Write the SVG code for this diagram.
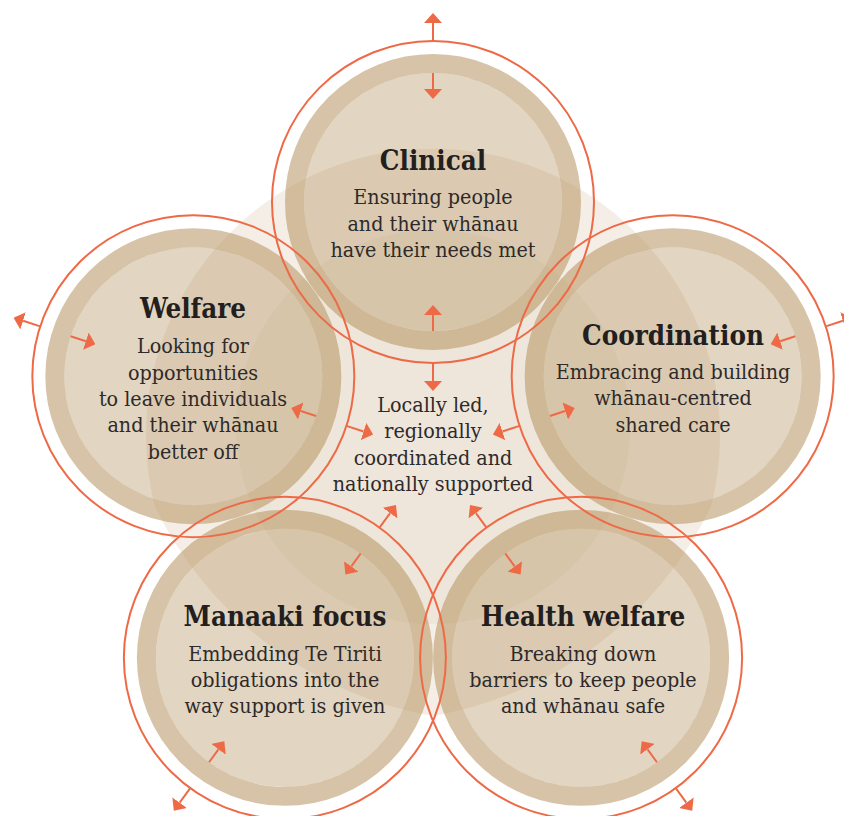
<svg xmlns="http://www.w3.org/2000/svg" width="844" height="816" viewBox="0 0 844 816">
<defs>
<style>
.cream{fill:#b08a52;fill-opacity:0.145}
.creamB{fill:#b08a52;fill-opacity:0.075}
.ring{fill:none;stroke:#b08a52;stroke-opacity:0.5;stroke-width:19}
.inner{fill:#b08a52;fill-opacity:0.36}
.red{fill:none;stroke:#ee6a47;stroke-width:2}
.ar{stroke:#ee6a47;stroke-width:2;fill:none;marker-end:url(#ah)}
.t{font-family:"DejaVu Serif","Liberation Serif",serif;font-stretch:condensed;font-weight:bold;font-size:27.5px;fill:#231f20;text-anchor:middle}
.b{font-family:"DejaVu Serif","Liberation Serif",serif;font-stretch:condensed;font-size:21.3px;fill:#2e2a2a;text-anchor:middle}
</style>
<marker id="ah" viewBox="0 0 10 18" refX="0" refY="9" markerWidth="10" markerHeight="18" markerUnits="userSpaceOnUse" orient="auto">
<path d="M0,0 L10,9 L0,18 Z" fill="#ee6a47"/>
</marker>
</defs>
<rect width="844" height="816" fill="#ffffff"/>
<g id="background">
<path class="cream" d="M155,507 A287,287 0 1 1 711,507 A383,383 0 0 1 433,716 A383,383 0 0 1 155,507 Z"/>
<circle class="creamB" cx="433" cy="427" r="197"/>
</g>
<g id="discs">
<g id="disc-clinical"><circle class="ring" cx="433" cy="202" r="138.5"/><circle class="inner" cx="433" cy="202" r="129"/></g>
<g id="disc-coordination"><circle class="ring" cx="672.67" cy="376.13" r="138.5"/><circle class="inner" cx="672.67" cy="376.13" r="129"/></g>
<g id="disc-health"><circle class="ring" cx="581.12" cy="657.87" r="138.5"/><circle class="inner" cx="581.12" cy="657.87" r="129"/></g>
<g id="disc-manaaki"><circle class="ring" cx="284.88" cy="657.87" r="138.5"/><circle class="inner" cx="284.88" cy="657.87" r="129"/></g>
<g id="disc-welfare"><circle class="ring" cx="193.33" cy="376.13" r="138.5"/><circle class="inner" cx="193.33" cy="376.13" r="129"/></g>
</g>
<g id="outlines">
<circle class="red" cx="433" cy="202" r="161"/>
<circle class="red" cx="672.67" cy="376.13" r="161"/>
<circle class="red" cx="581.12" cy="657.87" r="161"/>
<circle class="red" cx="284.88" cy="657.87" r="161"/>
<circle class="red" cx="193.33" cy="376.13" r="161"/>
</g>
<g id="connectors">
<line class="ar" x1="433" y1="41" x2="433" y2="23"/>
<line class="ar" x1="433" y1="73" x2="433" y2="89"/>
<line class="ar" x1="433" y1="331" x2="433" y2="315"/>
<line class="ar" x1="433" y1="363" x2="433" y2="381"/>
<line class="ar" x1="825.79" y1="326.38" x2="842.91" y2="320.82"/>
<line class="ar" x1="795.36" y1="336.27" x2="780.14" y2="341.21"/>
<line class="ar" x1="549.98" y1="415.99" x2="565.20" y2="411.05"/>
<line class="ar" x1="519.55" y1="425.88" x2="502.43" y2="431.44"/>
<line class="ar" x1="675.75" y1="788.12" x2="686.33" y2="802.68"/>
<line class="ar" x1="656.94" y1="762.23" x2="647.54" y2="749.29"/>
<line class="ar" x1="505.30" y1="553.51" x2="514.70" y2="566.45"/>
<line class="ar" x1="486.49" y1="527.62" x2="475.91" y2="513.06"/>
<line class="ar" x1="190.25" y1="788.12" x2="179.67" y2="802.68"/>
<line class="ar" x1="209.06" y1="762.23" x2="218.46" y2="749.29"/>
<line class="ar" x1="360.70" y1="553.51" x2="351.30" y2="566.45"/>
<line class="ar" x1="379.51" y1="527.62" x2="390.09" y2="513.06"/>
<line class="ar" x1="40.21" y1="326.38" x2="23.09" y2="320.82"/>
<line class="ar" x1="70.64" y1="336.27" x2="85.86" y2="341.21"/>
<line class="ar" x1="316.02" y1="415.99" x2="300.80" y2="411.05"/>
<line class="ar" x1="346.45" y1="425.88" x2="363.57" y2="431.44"/>
</g>
<g id="node-clinical">
<text class="t" x="433" y="170">Clinical</text>
<text class="b" x="433" y="204">Ensuring people</text>
<text class="b" x="433" y="230.5">and their whānau</text>
<text class="b" x="433" y="257">have their needs met</text>
</g>
<g id="node-welfare">
<text class="t" x="193" y="318">Welfare</text>
<text class="b" x="193" y="353">Looking for</text>
<text class="b" x="193" y="379.5">opportunities</text>
<text class="b" x="193" y="406">to leave individuals</text>
<text class="b" x="193" y="432">and their whānau</text>
<text class="b" x="193" y="458.5">better off</text>
</g>
<g id="node-coordination">
<text class="t" x="673" y="345">Coordination</text>
<text class="b" x="673" y="378.5">Embracing and building</text>
<text class="b" x="673" y="405">whānau-centred</text>
<text class="b" x="673" y="431.5">shared care</text>
</g>
<g id="node-manaaki">
<text class="t" x="285" y="626">Manaaki focus</text>
<text class="b" x="285" y="661">Embedding Te Tiriti</text>
<text class="b" x="285" y="687">obligations into the</text>
<text class="b" x="285" y="713">way support is given</text>
</g>
<g id="node-health">
<text class="t" x="583" y="626">Health welfare</text>
<text class="b" x="583" y="661">Breaking down</text>
<text class="b" x="583" y="687">barriers to keep people</text>
<text class="b" x="583" y="713">and whānau safe</text>
</g>
<g id="node-centre">
<text class="b" x="433" y="411.5">Locally led,</text>
<text class="b" x="433" y="438">regionally</text>
<text class="b" x="433" y="464.5">coordinated and</text>
<text class="b" x="433" y="491">nationally supported</text>
</g>
</svg>
